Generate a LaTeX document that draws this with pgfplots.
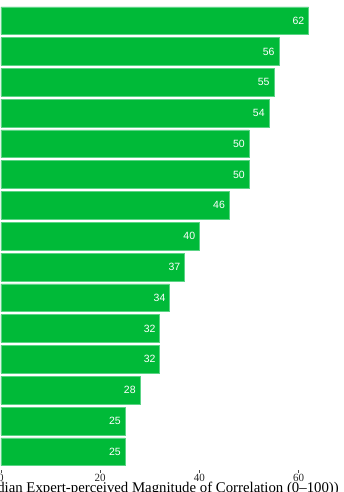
\documentclass[border=0pt]{standalone}
\usepackage{fontspec}
\setmainfont{Liberation Serif}
\newfontfamily\lsans{Liberation Sans}
\usepackage{pgfplots}
\pgfplotsset{compat=1.18}
\usetikzlibrary{calc}
\definecolor{gg}{HTML}{00BA38}
\definecolor{ggedge}{HTML}{5CD486}
\begin{document}
\begin{tikzpicture}
\begin{axis}[
  x=4.96pt, y=30.79pt,
  xmin=-2, xmax=68, ymin=0.4, ymax=15.6,
  xbar, bar width=27.7pt, bar shift=0pt,
  axis y line=none, axis x line*=bottom, x axis line style={draw=none},
  xtick={0,20,40,60}, ytick=\empty,
  tick align=outside, major tick length=2.5pt,
  tick style={black!70, line width=0.5pt},
  xticklabel style={font=\fontsize{11}{11}\selectfont, text=black!85, inner sep=0pt, anchor=north, yshift=-1.2pt},
  /pgf/number format/assume math mode=true,
  clip=false,
  nodes near coords,
  nodes near coords style={anchor=east, xshift=-4pt, inner sep=0pt, text=white, font=\lsans\fontsize{10.5}{10.5}\selectfont},
]
\addplot[fill=gg, draw=ggedge, line width=0.5pt] coordinates {(62,15) (56,14) (55,13) (54,12) (50,11) (50,10) (46,9) (40,8) (37,7) (34,6) (32,5) (32,4) (28,3) (25,2) (25,1)};
\coordinate (b) at (axis cs:0,1);
\end{axis}
\node[anchor=base east, font=\fontsize{14.8}{14.8}\selectfont, inner sep=0pt] at ($(b)+(338pt,-41.2pt)$) {Median Expert-perceived Magnitude of Correlation (0–100))};
\pgfresetboundingbox
\path[use as bounding box] ($(b)+(-1pt,-40.3pt)$) rectangle ++(344pt,492pt);
\end{tikzpicture}
\end{document}
